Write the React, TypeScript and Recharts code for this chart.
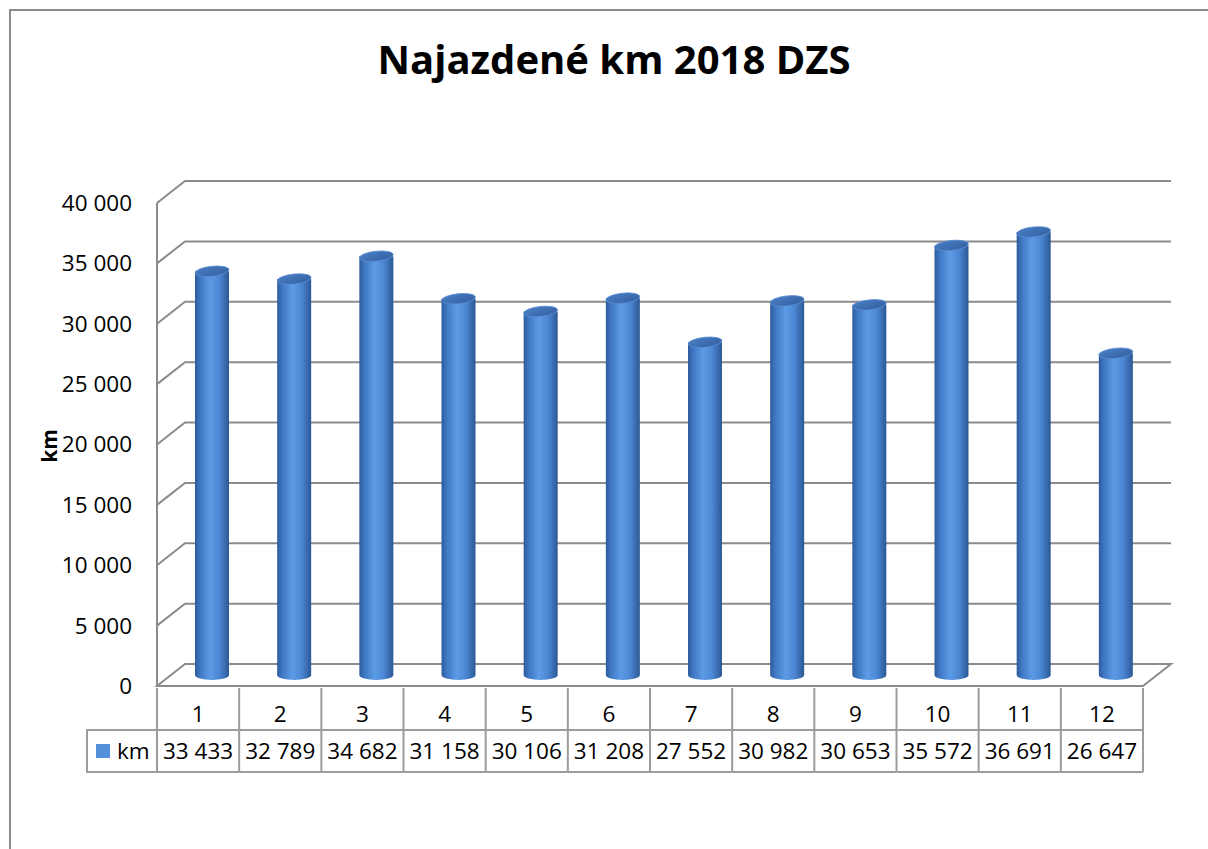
import React from "react";
import { BarChart, Bar, XAxis, YAxis, CartesianGrid } from "recharts";

const months = ["1", "2", "3", "4", "5", "6", "7", "8", "9", "10", "11", "12"];
const km = [33433, 32789, 34682, 31158, 30106, 31208, 27552, 30982, 30653, 35572, 36691, 26647];
const yTicks = [0, 5000, 10000, 15000, 20000, 25000, 30000, 35000, 40000];

const data = months.map((m, i) => ({ month: m, km: km[i] }));

const FONT = "'Open Sans', 'Liberation Sans', sans-serif";
const W = 1208;
const H = 849;
const PLOT_LEFT = 157;
const PLOT_RIGHT = 1143;
const PLOT_TOP = 203;
const PLOT_BOTTOM = 686;
const BAND = (PLOT_RIGHT - PLOT_LEFT) / months.length;
const DX = 28;
const DY = -22;
const GRID = "#8b8b8b";
const TABLE = "#9c9c9c";

const fmt = (v: number) => String(v).replace(/\B(?=(\d{3})+(?!\d))/g, " ");

const GridLine = (props: any) => {
  const { x1, y1, x2 } = props;
  if (Math.abs(y1 - PLOT_BOTTOM) < 1) {
    return (
      <path
        d={`M${x1},${y1} L${x2},${y1} L${x2 + DX},${y1 + DY} L${x1 + DX},${y1 + DY} Z`}
        fill="none"
        stroke={GRID}
        strokeWidth={2}
      />
    );
  }
  return (
    <path
      d={`M${x1},${y1} L${x1 + DX},${y1 + DY} L${x2 + DX},${y1 + DY}`}
      fill="none"
      stroke={GRID}
      strokeWidth={2}
    />
  );
};

const Cylinder = (props: any) => {
  const { x, y, width, height } = props;
  const rx = width / 2;
  const ry = 5;
  const cx = x + rx + DX / 2;
  const top = y + DY / 2;
  const bottom = y + height + DY / 2;
  return (
    <g>
      <path
        d={`M${cx - rx},${top} L${cx - rx},${bottom} A${rx},${ry} 0 0 0 ${cx + rx},${bottom} L${cx + rx},${top} Z`}
        fill="url(#cylSide)"
      />
      <ellipse
        cx={cx}
        cy={top}
        rx={rx}
        ry={ry}
        fill="url(#cylTop)"
        stroke="#5b8fd3"
        strokeWidth={0.8}
        transform={`rotate(-6 ${cx} ${top})`}
      />
    </g>
  );
};

const TableTick = (props: any) => {
  const { x, y, payload } = props;
  const i = payload.index;
  const left = x - BAND / 2;
  const right = x + BAND / 2;
  return (
    <g>
      <line x1={left} y1={y} x2={left} y2={y + 84} stroke={TABLE} strokeWidth={2} />
      {i === months.length - 1 && (
        <line x1={right} y1={y} x2={right} y2={y + 84} stroke={TABLE} strokeWidth={2} />
      )}
      <line x1={left} y1={y + 42} x2={right} y2={y + 42} stroke={TABLE} strokeWidth={2} />
      <line x1={left} y1={y + 84} x2={right} y2={y + 84} stroke={TABLE} strokeWidth={2} />
      <text x={x} y={y + 34} textAnchor="middle" fontSize={22.5} fontFamily={FONT} fill="#000">
        {payload.value}
      </text>
      <text x={x} y={y + 71} textAnchor="middle" fontSize={22.5} fontFamily={FONT} fill="#000">
        {fmt(km[i])}
      </text>
      {i === 0 && (
        <g>
          <rect x={left - 70} y={y + 42} width={70} height={42} fill="none" stroke={TABLE} strokeWidth={2} />
          <rect x={left - 61} y={y + 56} width={14} height={14} fill="#5690dc" />
          <text x={left - 40} y={y + 71} fontSize={22.5} fontFamily={FONT} fill="#000">
            km
          </text>
        </g>
      )}
    </g>
  );
};

export default function App() {
  return (
    <div style={{ position: "absolute", left: 0, top: 0, width: W, height: H, overflow: "hidden", background: "#fff" }}>
      <BarChart
        width={W}
        height={H}
        data={data}
        margin={{ top: PLOT_TOP, right: W - PLOT_RIGHT, bottom: 0, left: 0 }}
      >
        <defs>
          <linearGradient id="cylSide" x1="0" y1="0" x2="1" y2="0">
            <stop offset="0" stopColor="#2d5b9c" />
            <stop offset="0.15" stopColor="#3f77c3" />
            <stop offset="0.45" stopColor="#5d9be6" />
            <stop offset="0.72" stopColor="#4b86d3" />
            <stop offset="1" stopColor="#2c5895" />
          </linearGradient>
          <linearGradient id="cylTop" x1="0" y1="0" x2="1" y2="1">
            <stop offset="0" stopColor="#4a7fc6" />
            <stop offset="1" stopColor="#335f9f" />
          </linearGradient>
        </defs>
        <CartesianGrid vertical={false} horizontal={GridLine} />
        <XAxis
          dataKey="month"
          height={H - PLOT_BOTTOM}
          axisLine={false}
          tickLine={false}
          tickSize={0}
          interval={0}
          tick={TableTick}
        />
        <YAxis
          width={PLOT_LEFT}
          domain={[0, 40000]}
          ticks={yTicks}
          interval={0}
          tickFormatter={fmt}
          axisLine={{ stroke: GRID, strokeWidth: 2 }}
          tickLine={false}
          tickSize={0}
          tickMargin={25}
          tick={{ fontSize: 22.5, fontFamily: FONT, fill: "#000" }}
          label={{
            content: () => (
              <text
                transform="translate(57,446) rotate(-90)"
                textAnchor="middle"
                fontSize={21}
                fontWeight="bold"
                fontFamily={FONT}
                fill="#000"
              >
                km
              </text>
            ),
          }}
        />
        <Bar dataKey="km" barSize={34} shape={Cylinder} isAnimationActive={false} />
      </BarChart>
      <svg width={W} height={H} style={{ position: "absolute", left: 0, top: 0, pointerEvents: "none" }}>
        <rect x={10} y={10} width={W + 20} height={H + 20} fill="none" stroke={GRID} strokeWidth={2} />
        <text x={614} y={74} textAnchor="middle" fontSize={40} fontWeight="bold" fontFamily={FONT} fill="#000">
          Najazdené km 2018 DZS
        </text>
      </svg>
    </div>
  );
}
